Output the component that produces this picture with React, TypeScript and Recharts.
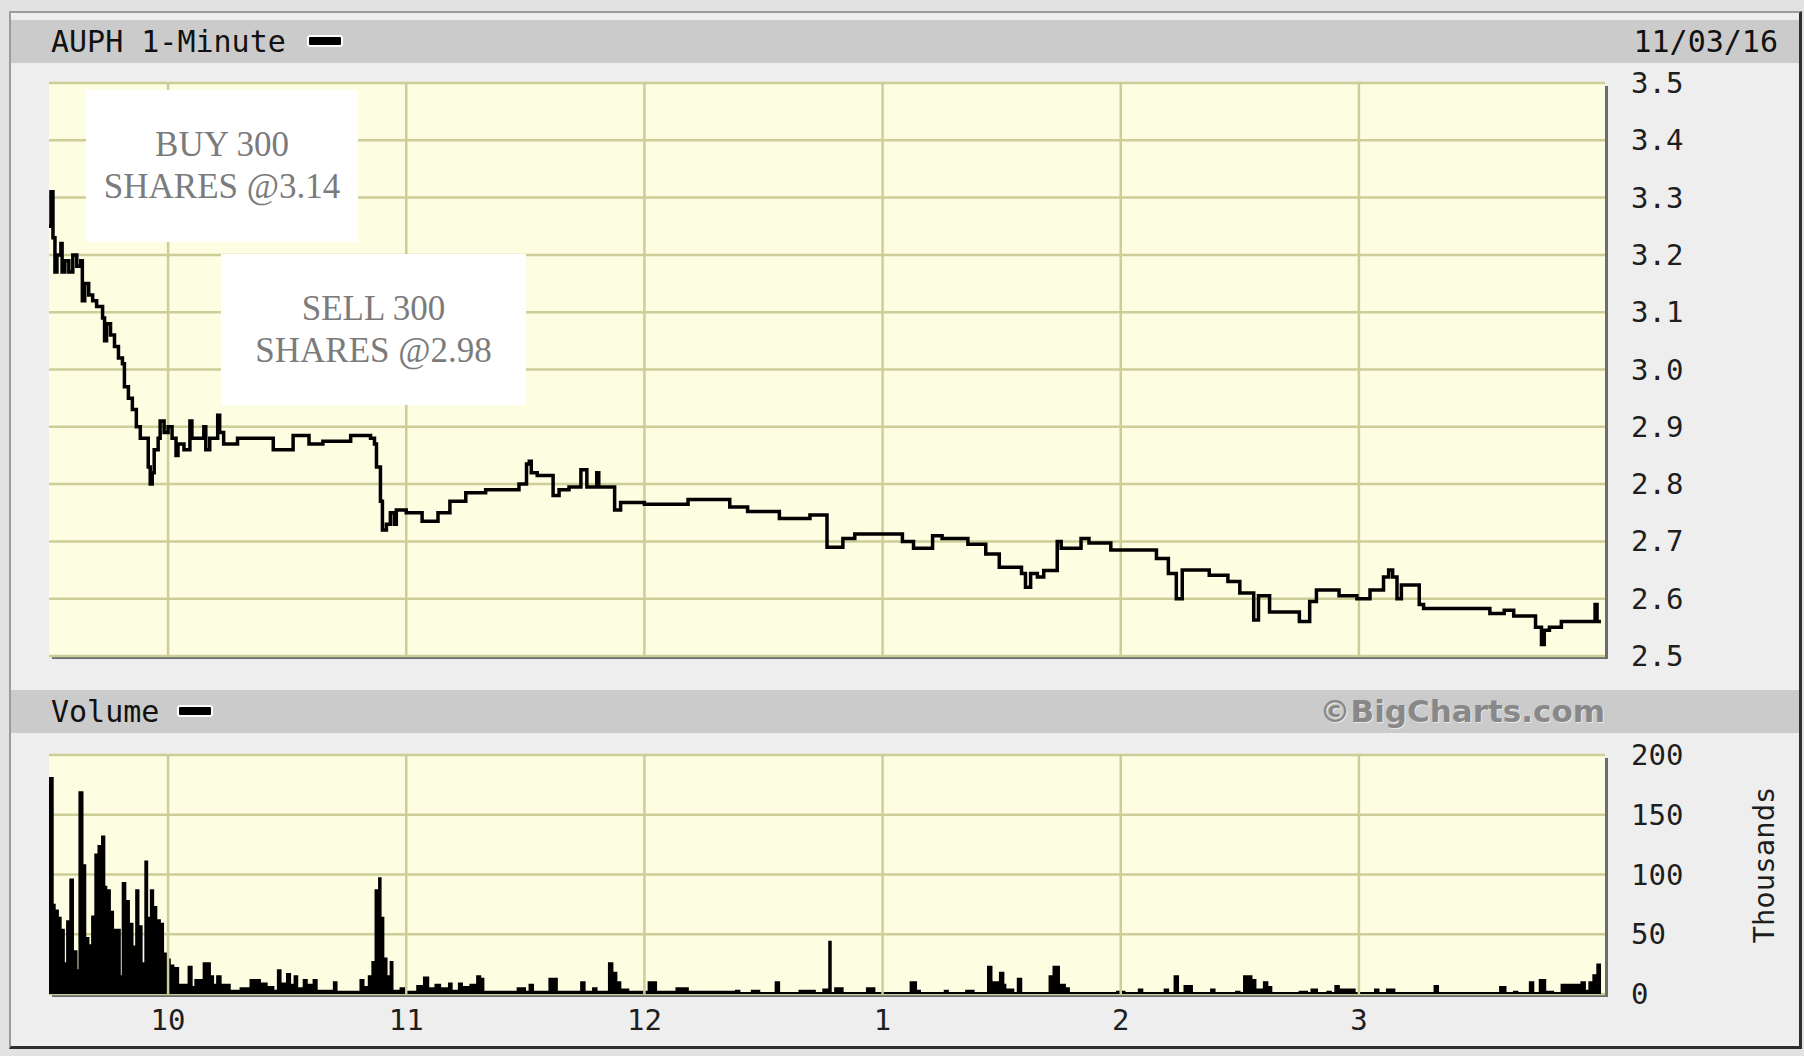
import React from 'react';
import { ComposedChart, Line, Area, XAxis, YAxis, CartesianGrid, ReferenceLine } from 'recharts';

// Minutes since 9:30 open, and last trade price
const priceMinutes = [
  0, 0.5, 1, 1.5, 2, 3, 3.3, 4, 5, 6, 7, 8, 8.4, 9, 10, 11, 12, 13.5, 14, 14.5, 15.5, 16.5, 17.5, 18.5, 19, 20,
  21, 22, 23, 25, 25.5, 26, 26.5, 27.5, 28, 29, 30, 31, 32, 32.5, 34, 35.5, 36, 39, 39.5, 40.5, 42.5, 43, 44,
  47.5, 56.5, 61.5, 65.5, 69, 76, 81, 82, 82.5, 83.5, 84, 85, 86, 87, 87.5, 90, 94, 98, 101, 105, 110, 118.4,
  120.3, 121, 121.5, 123, 127, 128.5, 131, 134, 135.5, 138, 138.5, 142.5, 144, 150, 161, 171.5, 176, 184, 191.7,
  196, 197.5, 200, 203, 215, 217.8, 222.6, 225, 231.5, 236, 239.4, 245, 246, 247.3, 249, 250.6, 254, 255, 260,
  262, 267.5, 271, 279, 282, 284, 285.5, 292.3, 297, 300, 303.5, 304.7, 307.5, 315, 317.6, 319.3, 325, 329.5,
  332.8, 336.2, 337.5, 338.5, 339.6, 340.7, 345.2, 346.3, 363, 366.6, 369, 374.5, 376, 376.7, 378, 381, 389.5, 390, 391,
];
const priceValues = [
  3.25, 3.31, 3.23, 3.17, 3.2, 3.22, 3.17, 3.19, 3.17, 3.2, 3.18, 3.19, 3.12, 3.15, 3.13, 3.12, 3.11, 3.09, 3.05, 3.08, 3.06, 3.04, 3.02, 3.01, 2.97, 2.95,
  2.93, 2.9, 2.88, 2.83, 2.8, 2.82, 2.86, 2.88, 2.91, 2.89, 2.9, 2.88, 2.85, 2.87, 2.86, 2.91, 2.88, 2.9, 2.86, 2.88, 2.92, 2.89, 2.87,
  2.88, 2.86, 2.885, 2.87, 2.875, 2.885, 2.88, 2.87, 2.83, 2.77, 2.72, 2.73, 2.75, 2.73, 2.755, 2.75, 2.735, 2.75, 2.77, 2.785, 2.79, 2.8,
  2.835, 2.84, 2.82, 2.815, 2.78, 2.79, 2.795, 2.825, 2.795, 2.82, 2.795, 2.755, 2.768, 2.765, 2.773, 2.76, 2.752, 2.74, 2.746,
  2.69, 2.69, 2.705, 2.713, 2.7, 2.688, 2.71, 2.705, 2.695, 2.678, 2.655, 2.644, 2.62, 2.644, 2.638, 2.649, 2.7, 2.688, 2.705,
  2.697, 2.685, 2.685, 2.67, 2.644, 2.6, 2.65, 2.641, 2.63, 2.61, 2.563, 2.605, 2.577, 2.56, 2.595, 2.615, 2.605, 2.6,
  2.615, 2.638, 2.65, 2.638, 2.6, 2.624, 2.59, 2.583, 2.574, 2.58, 2.57, 2.55, 2.52, 2.545, 2.55, 2.56, 2.59, 2.56, 2.56,
];

// Volume per minute, thousands of shares
const volumeMinutes = [
  0, 1, 1.5, 2.3, 3, 3.8, 4.5, 5.3, 6.1, 7, 7.6, 8.5, 9.2, 10, 10.8, 11.6, 12.4, 13.3, 14, 14.5, 15.4, 16.2, 17.9, 18.5,
  19.3, 20.2, 21.1, 21.9, 22.6, 23.4, 24.2, 24.8, 25.6, 26.3, 27.1, 28, 28.8, 29.7, 30.5, 31.4, 32.6, 35.1, 36, 36.8,
  38.9, 40.6, 41.4, 42.3, 43.3, 45.6, 48.2, 50.7, 53.2, 54.9, 56.6, 57.6, 58.4, 59.9, 60.8, 61.8, 62.6, 64.1, 65, 66.6,
  67.5, 71.7, 72.5, 78.4, 79.3, 80.5, 81.4, 82.2, 83.1, 83.6, 84.3, 85.1, 86, 86.6, 88.5, 89.8, 92.7, 94.4, 95.6, 97.3,
  98.6, 100.7, 101.5, 103.2, 104.1, 106.1, 107.8, 108.7, 109.5, 118, 120, 121, 122, 126, 128, 134, 135, 137, 138, 141,
  142, 143, 144, 146, 151, 153, 158, 161, 173, 174, 177, 179, 183, 184, 189, 193, 195, 196.5, 197, 198, 200, 206, 208,
  217, 218.5, 219.5, 225.6, 226.5, 231, 233, 236.5, 237.5, 239.5, 240.5, 241, 243, 244, 245, 252, 253, 254.5, 256, 257,
  269, 271, 274.5, 275.5, 281, 282, 283.5, 284.5, 286, 288, 292.7, 293.7, 299, 300, 301, 303, 304, 306, 307, 308, 315,
  317, 318, 319.5, 322, 323, 324, 325, 327, 329, 334, 335, 337, 339, 349, 350, 365.5, 367, 369, 370, 373, 374, 375.5,
  377, 379, 381, 386, 387, 388, 389, 390, 391,
];
const volumeValues = [
  181, 75, 70, 64, 54, 26, 61, 96, 36, 20, 169, 108, 47, 41, 65, 117, 124, 132, 90, 87, 69, 54, 15, 93,
  78, 59, 40, 87, 57, 26, 111, 64, 87, 73, 62, 59, 34, 29, 24, 22, 8, 23, 6, 12,
  26, 15, 8, 15, 8, 3, 5, 12, 9, 6, 3, 20, 9, 17, 8, 15, 5, 12, 8, 12,
  3, 10, 2, 12, 6, 15, 27, 87, 97, 64, 30, 15, 27, 3, 5, 2, 7, 14, 5, 8,
  5, 9, 3, 9, 6, 8, 15, 13, 2, 5, 2, 8, 2, 13, 2, 10, 2, 5, 2, 26,
  18, 10, 4, 2, 10, 2, 5, 2, 3, 1, 3, 1, 10, 1, 3, 1, 4, 44, 1, 5, 1, 5, 1,
  10, 3, 1, 3, 1, 3, 1, 23, 10, 18, 8, 4, 1, 13, 1, 15, 23, 8, 5, 1,
  2, 1, 4, 1, 4, 1, 15, 1, 7, 1, 4, 1, 2, 1, 15, 12, 4, 10, 6, 1, 2,
  1, 4, 1, 2, 1, 7, 4, 4, 1, 4, 1, 4, 1, 7, 1, 6, 1, 2, 1, 10, 1, 12,
  2, 1, 8, 10, 3, 10, 16, 25, 25,
];

const hourTicks = [30, 90, 150, 210, 270, 330];
const hourLabels = ['10', '11', '12', '1', '2', '3'];
const priceTicks = [2.5, 2.6, 2.7, 2.8, 2.9, 3.0, 3.1, 3.2, 3.3, 3.4, 3.5];
const priceTickLabels = ['2.5', '2.6', '2.7', '2.8', '2.9', '3.0', '3.1', '3.2', '3.3', '3.4', '3.5'];
const volumeTicks = [0, 50, 100, 150, 200];
const volumeTickLabels = ['0', '50', '100', '150', '200'];

const priceData = priceMinutes.map((t, i) => ({ t, price: priceValues[i] }));
const volumeData = volumeMinutes.map((t, i) => ({ t, vol: volumeValues[i] }));

const MONO = '"DejaVu Sans Mono", "Liberation Mono", monospace';
const GRID = '#cdcd98';
const PLOT_BG = '#fdfde2';
const X_DOMAIN: [number, number] = [0, 392];

const makeYTick = (ticks: number[], labels: string[]) => (props: any) => {
  const { x, y, payload } = props;
  const idx = ticks.indexOf(payload.value);
  return (
    <text x={x} y={y} dominantBaseline="central" textAnchor="start" fontFamily={MONO} fontSize={29} fill="#1e1e1e">
      {idx >= 0 ? labels[idx] : String(payload.value)}
    </text>
  );
};

const XTick = (props: any) => {
  const { x, y, payload } = props;
  const idx = hourTicks.indexOf(payload.value);
  return (
    <text x={x} y={y} dominantBaseline="central" textAnchor="middle" fontFamily={MONO} fontSize={29} fill="#1e1e1e">
      {idx >= 0 ? hourLabels[idx] : ''}
    </text>
  );
};

const abs = (left: number, top: number, width: number, height: number, extra: React.CSSProperties = {}): React.CSSProperties => ({
  position: 'absolute', left, top, width, height, boxSizing: 'border-box', ...extra,
});

const Swatch = ({ left, top }: { left: number; top: number }) => (
  <div style={abs(left, top, 36, 12, { background: '#000', border: '2px solid #fff', borderRadius: 3 })} />
);

const Note = ({ left, top, width, height, lines }: { left: number; top: number; width: number; height: number; lines: string[] }) => (
  <div
    style={abs(left, top, width, height, {
      background: '#fff', display: 'flex', flexDirection: 'column', alignItems: 'center', justifyContent: 'center',
      fontFamily: '"Liberation Serif", "Times New Roman", serif', fontSize: 35, lineHeight: '42px', color: '#7b7b7b', zIndex: 5,
    })}
  >
    {lines.map((l) => (
      <div key={l}>{l}</div>
    ))}
  </div>
);

export default function App() {
  return (
    <div style={{ position: 'absolute', left: 0, top: 0, width: 1804, height: 1056, background: '#e2e2e2', overflow: 'hidden' }}>
      {/* frame */}
      <div style={abs(9, 11, 1793, 1038, { background: '#eeeeee', borderLeft: '2px solid #9c9c9c', borderTop: '2px solid #9c9c9c', borderRight: '3px solid #2e2e2e', borderBottom: '3px solid #2e2e2e' })} />
      {/* title bar */}
      <div style={abs(11, 20, 1788, 43, { background: '#cbcbcb' })} />
      <div style={abs(51, 20, 600, 43, { fontFamily: MONO, fontSize: 30, lineHeight: '43px', color: '#111' })}>AUPH 1-Minute</div>
      <Swatch left={307} top={35} />
      <div style={abs(1478, 20, 300, 43, { fontFamily: MONO, fontSize: 30, lineHeight: '43px', color: '#111', textAlign: 'right' })}>11/03/16</div>
      {/* volume bar */}
      <div style={abs(11, 690, 1788, 43, { background: '#cbcbcb' })} />
      <div style={abs(51, 690, 300, 43, { fontFamily: MONO, fontSize: 30, lineHeight: '43px', color: '#111' })}>Volume</div>
      <Swatch left={177} top={705} />
      <div style={abs(1155, 690, 450, 43, { fontFamily: '"DejaVu Sans", Verdana, sans-serif', fontWeight: 'bold', fontSize: 31, lineHeight: '43px', color: '#888888', textAlign: 'right', textShadow: '1px 1px 0 #e8e8e8' })}>
        ©BigCharts.com
      </div>
      {/* plot backgrounds */}
      <div style={abs(49, 83, 1556, 573, { background: PLOT_BG, boxShadow: '3px 3px 0 #6c6c6c' })} />
      <div style={abs(49, 755, 1556, 239, { background: PLOT_BG, boxShadow: '3px 3px 0 #6c6c6c' })} />
      {/* Thousands */}
      <div style={abs(1764 - 120, 865 - 20, 240, 40, { fontFamily: MONO, fontSize: 29, lineHeight: '40px', color: '#1e1e1e', textAlign: 'center', transform: 'rotate(-90deg)' })}>
        Thousands
      </div>

      {/* price chart */}
      <div style={{ position: 'absolute', left: 0, top: 0 }}>
        <ComposedChart width={1804} height={700} data={priceData} margin={{ top: 83, left: 49, right: 0, bottom: 44 }}>
          <CartesianGrid horizontal vertical={false} stroke={GRID} strokeWidth={2.5} />
          <XAxis type="number" dataKey="t" domain={X_DOMAIN} hide allowDataOverflow />
          <YAxis
            orientation="right"
            width={199}
            domain={[2.5, 3.5]}
            ticks={priceTicks}
            interval={0}
            allowDataOverflow
            axisLine={false}
            tickLine={false}
            tickSize={0}
            tickMargin={26}
            tick={makeYTick(priceTicks, priceTickLabels)}
          />
          {hourTicks.map((h) => (
            <ReferenceLine key={h} x={h} stroke={GRID} strokeWidth={2.5} />
          ))}
          <Line type="stepAfter" dataKey="price" stroke="#000" strokeWidth={3.5} dot={false} isAnimationActive={false} />
        </ComposedChart>
      </div>

      {/* volume chart */}
      <div style={{ position: 'absolute', left: 0, top: 700 }}>
        <ComposedChart width={1804} height={356} data={volumeData} margin={{ top: 55, left: 49, right: 0, bottom: 2 }}>
          <CartesianGrid horizontal vertical={false} stroke={GRID} strokeWidth={2.5} />
          <XAxis
            type="number"
            dataKey="t"
            domain={X_DOMAIN}
            ticks={hourTicks}
            interval={0}
            allowDataOverflow
            height={60}
            axisLine={false}
            tickLine={false}
            tickSize={0}
            tickMargin={26}
            tick={<XTick />}
          />
          <YAxis
            orientation="right"
            width={199}
            domain={[0, 200]}
            ticks={volumeTicks}
            interval={0}
            allowDataOverflow
            axisLine={false}
            tickLine={false}
            tickSize={0}
            tickMargin={26}
            tick={makeYTick(volumeTicks, volumeTickLabels)}
          />
          {hourTicks.map((h) => (
            <ReferenceLine key={h} x={h} stroke={GRID} strokeWidth={2.5} />
          ))}
          <Area type="stepAfter" dataKey="vol" stroke="#000" strokeWidth={1.5} fill="#000" fillOpacity={1} baseValue={0} isAnimationActive={false} />
        </ComposedChart>
      </div>

      {/* annotations */}
      <Note left={86} top={90} width={272} height={152} lines={['BUY 300', 'SHARES @3.14']} />
      <Note left={221} top={254} width={305} height={151} lines={['SELL 300', 'SHARES @2.98']} />
    </div>
  );
}
